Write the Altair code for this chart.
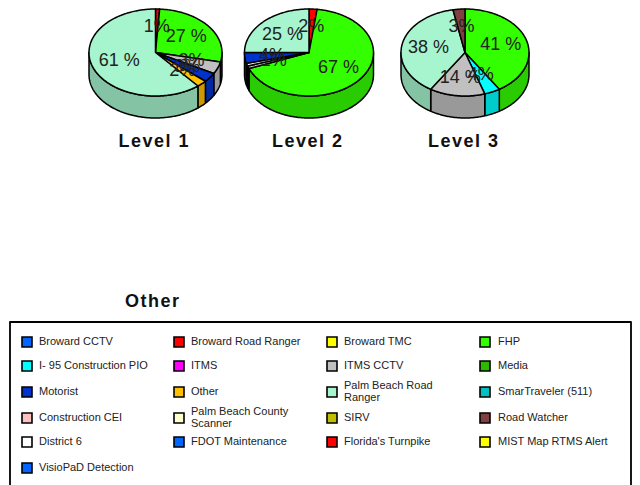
import math
import altair as alt
import pandas as pd

# ---- data ----
level_names = ["Level 1", "Level 2", "Level 3"]

level1_values = [1, 27.5, 4.5, 3.5, 2.5, 61]
level1_labels = ["1%", "27 %", "3%", "3%", "2%", "61 %"]
level1_colors = ["#ff0000", "#33ff00", "#c0c0c0", "#0033cc", "#ffc000", "#a6f5cf"]

level2_values = [2, 67, 1, 1, 4, 25]
level2_labels = ["2%", "67 %", "1%", "", "4%", "25 %"]
level2_colors = ["#ff0000", "#33ff00", "#c0c0c0", "#ffffff", "#0033cc", "#a6f5cf"]

level3_values = [41, 4, 14, 38, 3]
level3_labels = ["41 %", "4%", "14 %", "38 %", "3%"]
level3_colors = ["#33ff00", "#00ffff", "#c0c0c0", "#a6f5cf", "#804040"]

legend_names = [
    "Broward CCTV", "Broward Road Ranger", "Broward TMC", "FHP",
    "I- 95 Construction PIO", "ITMS", "ITMS CCTV", "Media",
    "Motorist", "Other", "Palm Beach Road\nRanger", "SmarTraveler  (511)",
    "Construction CEI", "Palm Beach County\nScanner", "SIRV", "Road Watcher",
    "District  6", "FDOT Maintenance", "Florida's Turnpike", "MIST Map RTMS Alert",
    "VisioPaD Detection",
]
legend_colors = [
    "#0066ff", "#ff0000", "#ffff00", "#33ff00",
    "#00ffff", "#ff00ff", "#c0c0c0", "#2fb800",
    "#0033cc", "#ffc000", "#a6f5cf", "#00c0c0",
    "#ffc0c0", "#ffffcc", "#c0c000", "#804040",
    "#ffffff", "#0066ff", "#ff0000", "#ffff00",
    "#0066ff",
]

# ---- layout ----
W, H = 624, 477
OFF = 8
pies = [
    dict(values=level1_values, labels=level1_labels, colors=level1_colors, cx=155.5, a=66.5),
    dict(values=level2_values, labels=level2_labels, colors=level2_colors, cx=309, a=64.5),
    dict(values=level3_values, labels=level3_labels, colors=level3_colors, cx=465, a=64),
]
CY, B, DEPTH = 52.5, 43.5, 22
LABEL_R = 0.58
col_swatch = [27, 179, 332, 485]
col_text = [39, 191, 344, 498]
row_y = [342, 366, 392, 418, 442, 468]


def darken(hex_color, k=0.8):
    r, g, b = (int(hex_color[i:i + 2], 16) for i in (1, 3, 5))
    return "#%02x%02x%02x" % (int(r * k), int(g * k), int(b * k))


def pt(cx, cy, a, b, deg):
    t = math.radians(deg)
    return [cx + a * math.sin(t) - OFF, cy - b * math.cos(t) - OFF]


def arc(cx, cy, a, b, d0, d1):
    n = max(2, int(abs(d1 - d0)) + 2)
    return [pt(cx, cy, a, b, d0 + (d1 - d0) * i / (n - 1)) for i in range(n)]


def feature(ring, color):
    ring = ring + [ring[0]]
    return {"type": "Feature",
            "geometry": {"type": "Polygon", "coordinates": [ring]},
            "properties": {"color": color}}


sides, tops, label_rows = [], [], []
for p in pies:
    total = sum(p["values"])
    start = 0.0
    for v, lab, col in zip(p["values"], p["labels"], p["colors"]):
        d0 = start / total * 360
        d1 = (start + v) / total * 360
        start += v
        lo, hi = max(d0, 90), min(d1, 270)
        if hi > lo:
            upper = arc(p["cx"], CY, p["a"], B, lo, hi)
            lower = arc(p["cx"], CY + DEPTH, p["a"], B, hi, lo)
            sides.append(feature(upper + lower, darken(col)))
        ring = [[p["cx"] - OFF, CY - OFF]] + arc(p["cx"], CY, p["a"], B, d0, d1)
        tops.append(feature(ring, col))
        mid = (d0 + d1) / 2
        x, y = pt(p["cx"], CY, p["a"] * LABEL_R, B * LABEL_R, mid)
        label_rows.append({"x": x, "y": y, "t": lab})

box = [feature([[10 - OFF, 322 - OFF], [W - 1, 322 - OFF],
                [W - 1, 500], [10 - OFF, 500]], "#ffffff")]

px = alt.Scale(domain=[0, W], range=[0, W])
py = alt.Scale(domain=[0, H], range=[0, H])


def shapes(features, width):
    return alt.Chart(alt.InlineData(values=features)).mark_geoshape(
        stroke="black", strokeWidth=width, strokeJoin="round"
    ).encode(color=alt.Color("properties.color:N", scale=None)).project(
        type="identity", scale=1, translate=[0, 0])


def texts(rows, **kw):
    return alt.Chart(pd.DataFrame(rows)).mark_text(font="Liberation Sans", **kw).encode(
        x=alt.X("x:Q", scale=px, axis=None),
        y=alt.Y("y:Q", scale=py, axis=None),
        text="t:N",
    )


def spaced(s):
    return "\u200a".join(s)


title_rows = [{"x": p["cx"] - 2 - OFF, "y": 142 - OFF, "t": spaced(n)}
              for p, n in zip(pies, level_names)]
title_rows.append({"x": 152 - OFF, "y": 302 - OFF, "t": spaced("Other")})

swatch_rows, legend_rows = [], []
for i, (n, c) in enumerate(zip(legend_names, legend_colors)):
    r, k = divmod(i, 4)
    swatch_rows.append({"x": col_swatch[k] - OFF, "y": row_y[r] - OFF, "c": c})
    lift = 6 if "\n" in n else 0
    legend_rows.append({"x": col_text[k] - OFF, "y": row_y[r] - OFF - lift, "t": n})

swatches = alt.Chart(pd.DataFrame(swatch_rows)).mark_square(
    size=100, stroke="black", strokeWidth=1.6, opacity=1
).encode(
    x=alt.X("x:Q", scale=px, axis=None),
    y=alt.Y("y:Q", scale=py, axis=None),
    fill=alt.Fill("c:N", scale=None),
)

chart = alt.layer(
    shapes(sides, 1.5),
    shapes(tops, 1.5),
    shapes(box, 1.8),
    texts(label_rows, fontSize=18, color="#222222", align="center", baseline="middle"),
    texts(title_rows, fontSize=18, fontWeight="bold", color="#111111", align="center", baseline="middle"),
    swatches,
    texts(legend_rows, fontSize=11, color="#222222", align="left", baseline="middle",
          lineBreak="\n", lineHeight=12),
).properties(width=W, height=H, padding=0).configure_view(stroke=None)

chart.save("out.html", embed_options={"renderer": "svg", "actions": False})
